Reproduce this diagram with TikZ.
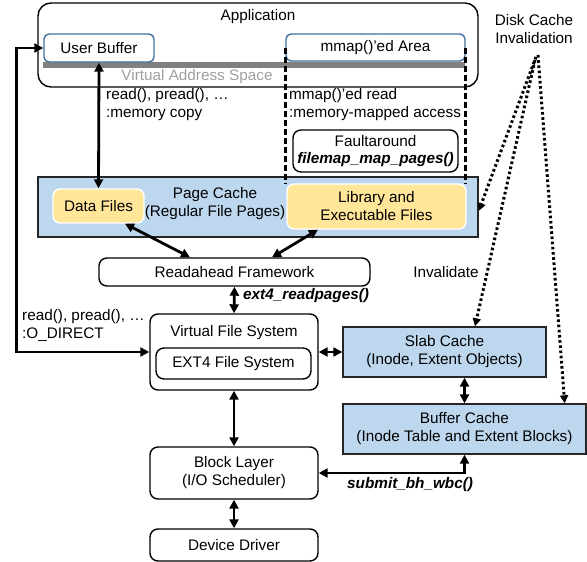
\documentclass[tikz,border=0pt]{standalone}
\usepackage{fontspec}
\setmainfont{Liberation Sans}
\usetikzlibrary{arrows.meta,calc}
\definecolor{cacheblue}{HTML}{BDD7EE}
\definecolor{fileyellow}{HTML}{FFE699}
\definecolor{ubblue}{HTML}{41719C}
\definecolor{bargray}{HTML}{808080}
\definecolor{vasgray}{HTML}{A0A0A0}
\begin{document}
\begin{tikzpicture}[x=1pt,y=-1pt,
  font=\fontsize{15.3}{18}\selectfont,
  every node/.style={inner sep=0pt, align=center},
  rbox/.style={draw=black, line width=1.4pt, rounded corners=8pt, fill=white},
  ubox/.style={draw=ubblue, line width=1.4pt, rounded corners=5pt, fill=white},
  cbox/.style={draw=black!85, line width=1.4pt, fill=cacheblue},
  fbox/.style={draw=white, line width=1.4pt, rounded corners=7pt, fill=fileyellow},
  flow/.style={line width=2.8pt, {Triangle[length=9pt,width=9pt]}-{Triangle[length=9pt,width=9pt]}},
  dash line/.style={line width=2.8pt, dash pattern=on 6pt off 3pt},
  inval/.style={line width=3pt, dash pattern=on 2.6pt off 2.6pt, -{Triangle[length=8pt,width=8pt]}},
  fn/.style={font=\fontsize{15.3}{18}\selectfont\bfseries\itshape}
]
\useasboundingbox (0,0) rectangle (587,562);

% Application
\node[rbox, rounded corners=13pt, minimum width=440pt, minimum height=84pt] (app) at (258,45) {};
\node (apptext) at (258,17) {Application};
\fill[bargray] (43,62) rectangle (465,68);
\node[ubox, minimum width=110pt, minimum height=28pt] (ub) at (99,48) {User Buffer};
\node[ubox, minimum width=179pt, minimum height=27pt] (mm) at (375.5,47.5) {mmap()’ed Area};
\node[text=vasgray] (vas) at (197,77) {Virtual Address Space};

\node[anchor=west, align=left] (rdlab) at (106,105) {read(), pread(), …\\:memory copy};
\node[anchor=west, align=left] (mmlab) at (289,105) {mmap()’ed read\\:memory-mapped access};

\node[rbox, minimum width=165pt, minimum height=42pt, font=\fontsize{15.3}{17}\selectfont] (fa) at (375.5,151) {Faultaround\\\textbf{\textit{filemap\_map\_pages()}}};

% Page cache
\node[cbox, minimum width=440pt, minimum height=60pt] (pc) at (258,207) {};
\node[fbox, minimum width=91pt, minimum height=34pt] (df) at (98.5,206) {Data Files};
\node (pctext) at (215,204) {Page Cache\\(Regular File Pages)};
\node[fbox, minimum width=179pt, minimum height=45pt] (lib) at (376.5,206.5) {Library and\\Executable Files};

% dashed mmap lines
\draw[dash line] (mm.west) -- (mm.west |- lib.north);
\draw[dash line] (mm.east) -- (mm.east |- lib.north);

\node[rbox, minimum width=271pt, minimum height=28pt] (ra) at (234.5,272) {Readahead Framework};
\node[fn, anchor=west] (ext4lab) at (243,296) {ext4\_readpages()};

\node[rbox, minimum width=168pt, minimum height=76pt] (vfs) at (234,352) {};
\node (vfstext) at (234,333) {Virtual File System};
\node[rbox, minimum width=155pt, minimum height=31pt] (ext4) at (233.5,363.5) {EXT4 File System};

\node[anchor=west, align=left] (odlab) at (22,325) {read(), pread(), …\\:O\_DIRECT};

\node[cbox, minimum width=203pt, minimum height=50pt] (slab) at (444.5,352) {Slab Cache\\(Inode, Extent Objects)};
\node[cbox, minimum width=243pt, minimum height=50pt] (buf) at (464.5,429) {Buffer Cache\\(Inode Table and Extent Blocks)};

\node[rbox, minimum width=168pt, minimum height=52pt] (bl) at (234,473) {Block Layer\\(I/O Scheduler)};
\node[fn, anchor=west] (sublab) at (347,485) {submit\_bh\_wbc()};
\node[rbox, minimum width=168pt, minimum height=32pt] (dd) at (234,545) {Device Driver};

\node (dci) at (534,29) {Disk Cache\\Invalidation};
\node (invlab) at (446,272) {Invalidate};

% solid arrows
\draw[flow] (ub.south) -- (df.north);
\draw[flow] ([xshift=26.5pt]df.south) -- ([xshift=-44.5pt]ra.north);
\draw[flow] ([xshift=-58.5pt]lib.south) -- ([xshift=37.5pt]ra.north);
\draw[flow] (ra.south) -- (vfs.north);
\draw[flow] (ub.west) -- ++(-27,0) |- (vfs.west);
\draw[flow] (vfs.east) -- (slab.west);
\draw[flow] (buf.north |- slab.south) -- (buf.north);
\draw[flow] (vfs.south) -- (bl.north);
\draw[flow] (bl.south) -- (dd.north);
\draw[flow] (buf.south) |- (bl.east);

% invalidation dotted arrows
\coordinate (top1) at (536,57);
\coordinate (top2) at (535,60);
\coordinate (top3) at (538,55);
\draw[inval] (top1) -- ([yshift=-4pt]pc.east);
\draw[inval] (top2) -- ([xshift=30.5pt]slab.north);
\draw[inval] (top3) -- ([xshift=-22pt]buf.north east);
\end{tikzpicture}
\end{document}
